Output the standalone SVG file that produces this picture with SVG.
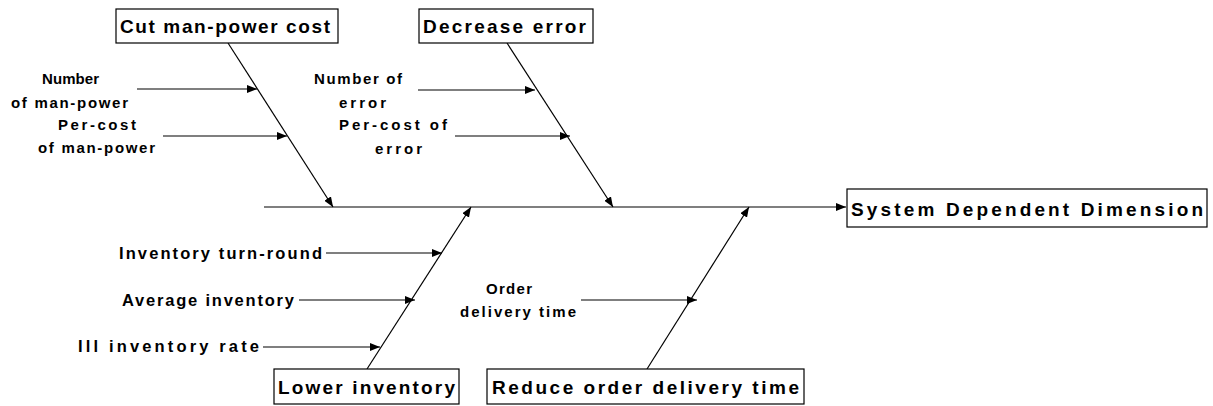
<svg xmlns="http://www.w3.org/2000/svg" width="1213" height="406" viewBox="0 0 1213 406">
<style>
.box{fill:#fff;stroke:#000;stroke-width:1.2}
.lbl{font-family:"Liberation Sans",Arial,sans-serif;font-weight:bold;fill:#000}
.big{font-size:19px}
.mid{font-size:16.5px}
.sm{font-size:15px}
.ln{stroke:#000;stroke-width:1.2;fill:none}
</style>
<defs>
<marker id="ah" viewBox="0 0 10 8" refX="10" refY="4" markerWidth="10" markerHeight="8" markerUnits="userSpaceOnUse" orient="auto">
<path d="M0,0 L10,4 L0,8 Z" fill="#000"/>
</marker>
</defs>
<g id="connectors">
<line class="ln" x1="264" y1="207" x2="846" y2="207" marker-end="url(#ah)"/>
<line class="ln" x1="228" y1="43" x2="333" y2="207" marker-end="url(#ah)"/>
<line class="ln" x1="507" y1="43" x2="613" y2="207" marker-end="url(#ah)"/>
<line class="ln" x1="367" y1="369" x2="471" y2="207" marker-end="url(#ah)"/>
<line class="ln" x1="647" y1="369" x2="749" y2="207" marker-end="url(#ah)"/>
<line class="ln" x1="137" y1="89" x2="257" y2="89" marker-end="url(#ah)"/>
<line class="ln" x1="163" y1="136" x2="287" y2="136" marker-end="url(#ah)"/>
<line class="ln" x1="418" y1="90" x2="535" y2="90" marker-end="url(#ah)"/>
<line class="ln" x1="455" y1="136" x2="570" y2="136" marker-end="url(#ah)"/>
<line class="ln" x1="326" y1="253" x2="442" y2="253" marker-end="url(#ah)"/>
<line class="ln" x1="299" y1="300" x2="415" y2="300" marker-end="url(#ah)"/>
<line class="ln" x1="263" y1="347" x2="380" y2="347" marker-end="url(#ah)"/>
<line class="ln" x1="581" y1="300" x2="697" y2="300" marker-end="url(#ah)"/>
</g>
<g id="cut">
<rect class="box" x="116" y="9" width="222" height="34"/>
<text class="lbl big" x="120" y="33" textLength="210" lengthAdjust="spacing">Cut man-power cost</text>
</g>
<g id="decrease">
<rect class="box" x="419" y="9" width="174" height="34"/>
<text class="lbl big" x="423" y="33" textLength="163" lengthAdjust="spacing">Decrease error</text>
</g>
<g id="system">
<rect class="box" x="847" y="189" width="360" height="38"/>
<text class="lbl big" x="851" y="216" textLength="352" lengthAdjust="spacing">System Dependent Dimension</text>
</g>
<g id="lower">
<rect class="box" x="274" y="369" width="185" height="35"/>
<text class="lbl big" x="278" y="394" textLength="177" lengthAdjust="spacing">Lower inventory</text>
</g>
<g id="reduce">
<rect class="box" x="487" y="369" width="317" height="35"/>
<text class="lbl big" x="492" y="394" textLength="307" lengthAdjust="spacing">Reduce order delivery time</text>
</g>
<g id="causes">
<text class="lbl sm" x="42" y="84" textLength="57" lengthAdjust="spacing">Number</text>
<text class="lbl sm" x="11" y="108" textLength="117" lengthAdjust="spacing">of man-power</text>
<text class="lbl sm" x="58" y="130" textLength="78" lengthAdjust="spacing">Per-cost</text>
<text class="lbl sm" x="38" y="153" textLength="117" lengthAdjust="spacing">of man-power</text>
<text class="lbl sm" x="314" y="84" textLength="88" lengthAdjust="spacing">Number of</text>
<text class="lbl sm" x="339" y="108" textLength="47" lengthAdjust="spacing">error</text>
<text class="lbl sm" x="339" y="130" textLength="108" lengthAdjust="spacing">Per-cost of</text>
<text class="lbl sm" x="375" y="154" textLength="47" lengthAdjust="spacing">error</text>
<text class="lbl mid" x="119" y="259" textLength="203" lengthAdjust="spacing">Inventory turn-round</text>
<text class="lbl mid" x="122" y="306" textLength="172" lengthAdjust="spacing">Average inventory</text>
<text class="lbl mid" x="78" y="352" textLength="181" lengthAdjust="spacing">Ill inventory rate</text>
<text class="lbl sm" x="486" y="294" textLength="46" lengthAdjust="spacing">Order</text>
<text class="lbl sm" x="460" y="317" textLength="116" lengthAdjust="spacing">delivery time</text>
</g>
</svg>
